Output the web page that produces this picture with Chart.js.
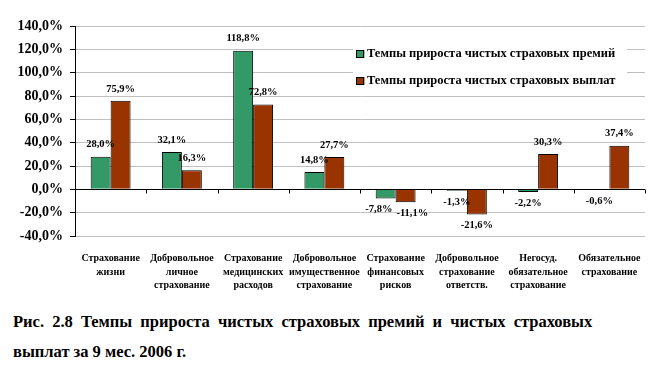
<!DOCTYPE html>
<html><head><meta charset="utf-8">
<script src="https://cdn.jsdelivr.net/npm/chart.js@4"></script>
<style>
html,body{margin:0;padding:0;background:#fff;}
#wrap{position:relative;width:660px;height:366px;}
#c{position:absolute;left:0;top:0;}
.cap{position:absolute;left:13px;font-family:"Liberation Serif","Times New Roman",serif;font-weight:bold;font-size:16.5px;color:#000;white-space:nowrap;}
</style></head>
<body><div id="wrap"><canvas id="c" width="660" height="300"></canvas>
<div class="cap" style="top:312px;word-spacing:4px">Рис. 2.8 Темпы прироста чистых страховых премий и чистых страховых</div>
<div class="cap" style="top:342px">выплат за 9 мес. 2006 г.</div>
</div>
<script>
const categories = [
  ["Страхование","жизни"],
  ["Добровольное","личное","страхование"],
  ["Страхование","медицинских","расходов"],
  ["Добровольное","имущественное","страхование"],
  ["Страхование","финансовых","рисков"],
  ["Добровольное","страхование","ответств."],
  ["Негосуд.","обязательное","страхование"],
  ["Обязательное","страхование"]
];
const seriesNames = ["Темпы прироста чистых страховых премий","Темпы прироста чистых страховых выплат"];
const premiums = [28.0, 32.1, 118.8, 14.8, -7.8, -1.3, -2.2, -0.6];
const payments = [75.9, 16.3, 72.8, 27.7, -11.1, -21.6, 30.3, 37.4];
const yTicks = [140, 120, 100, 80, 60, 40, 20, 0, -20, -40];
const colors = ["#339966", "#993300"];

const SERIF = '"Liberation Serif","Times New Roman",serif';
const fmt = v => v.toFixed(1).replace('.', ',') + '%';

const labelPlugin = {
  id: 'labels',
  afterDatasetsDraw(chart) {
    const ctx = chart.ctx;
    ctx.save();
    ctx.font = 'bold 10.5px ' + SERIF;
    ctx.fillStyle = '#000';
    ctx.textAlign = 'center';
    ctx.textBaseline = 'middle';
    const m0 = chart.getDatasetMeta(0), m1 = chart.getDatasetMeta(1);
    const d0 = chart.data.datasets[0].data, d1 = chart.data.datasets[1].data;
    const place = (bar, v) => {
      const t = fmt(v);
      return { t, x: bar.x, y: v >= 0 ? bar.y - 12 : bar.y + 11, w: ctx.measureText(t).width };
    };
    for (let i = 0; i < categories.length; i++) {
      const a = place(m0.data[i], d0[i]);
      const b = place(m1.data[i], d1[i]);
      // push apart labels of the same category if they collide
      if (Math.abs(a.y - b.y) < 9) {
        const overlap = (a.x + a.w / 2) - (b.x - b.w / 2) + 4;
        if (overlap > 0) { a.x -= overlap / 2; b.x += overlap / 2; }
      }
      ctx.fillText(a.t, a.x, a.y);
      ctx.fillText(b.t, b.x, b.y);
    }
    ctx.restore();
  }
};

const axisPlugin = {
  id: 'zeroAxis',
  afterDatasetsDraw(chart) {
    const ctx = chart.ctx;
    const xs = chart.scales.x, ys = chart.scales.y;
    const y0 = Math.round(ys.getPixelForValue(0)) + 0.5;
    ctx.save();
    ctx.strokeStyle = '#000';
    ctx.lineWidth = 1;
    ctx.beginPath();
    ctx.moveTo(xs.left, y0);
    ctx.lineTo(xs.right, y0);
    const n = categories.length;
    for (let i = 1; i <= n; i++) {
      const x = Math.round(xs.left + (xs.right - xs.left) * i / n) + 0.5;
      ctx.moveTo(x, y0);
      ctx.lineTo(x, y0 + 4);
    }
    ctx.stroke();
    ctx.restore();
  }
};

const legendPlugin = {
  id: 'boxLegend',
  afterDraw(chart) {
    const ctx = chart.ctx;
    ctx.save();
    ctx.fillStyle = '#fff';
    ctx.fillRect(353, 40, 274, 54);
    ctx.font = 'bold 12.5px ' + SERIF;
    ctx.textBaseline = 'middle';
    const rows = [54, 81];
    chart.data.datasets.forEach((ds, i) => {
      const y = rows[i];
      ctx.fillStyle = ds.backgroundColor;
      ctx.fillRect(356.5, y - 4, 8, 8);
      ctx.strokeStyle = '#000';
      ctx.lineWidth = 1;
      ctx.strokeRect(356.5, y - 3.5, 7, 7);
      ctx.fillStyle = '#000';
      ctx.fillText(ds.label, 367, y);
    });
    ctx.restore();
  }
};

new Chart(document.getElementById('c'), {
  type: 'bar',
  data: {
    labels: categories,
    datasets: [
      { label: seriesNames[0], data: premiums, backgroundColor: colors[0], borderColor: '#000', borderWidth: 1 },
      { label: seriesNames[1], data: payments, backgroundColor: colors[1], borderColor: '#000', borderWidth: 1 }
    ]
  },
  options: {
    responsive: false,
    animation: false,
    layout: { padding: { top: 26, right: 15, left: 0, bottom: 0 } },
    plugins: { legend: { display: false }, tooltip: { enabled: false } },
    datasets: { bar: { categoryPercentage: 0.56, barPercentage: 1.0 } },
    scales: {
      x: {
        grid: { display: false },
        border: { display: false },
        ticks: {
          color: '#000', font: { family: SERIF, size: 10, weight: 'bold', lineHeight: 1.35 },
          maxRotation: 0, minRotation: 0, autoSkip: false, padding: 8
        },
        afterFit(scale) { scale.height = 64; }
      },
      y: {
        min: -40, max: 140,
        afterBuildTicks(scale) { scale.ticks = yTicks.map(v => ({ value: v })); },
        grid: {
          color: ctx => ctx.tick && ctx.tick.value === 0 ? '#000' : '#c0c0c0',
          tickColor: '#000', tickLength: 5, drawTicks: true
        },
        border: { display: true, color: '#000', width: 1 },
        ticks: {
          color: '#000', font: { family: SERIF, size: 14, weight: 'bold' },
          padding: 7,
          callback: v => fmt(v)
        },
        afterFit(scale) { scale.width = 75; }
      }
    }
  },
  plugins: [labelPlugin, axisPlugin, legendPlugin]
});
</script></body></html>
